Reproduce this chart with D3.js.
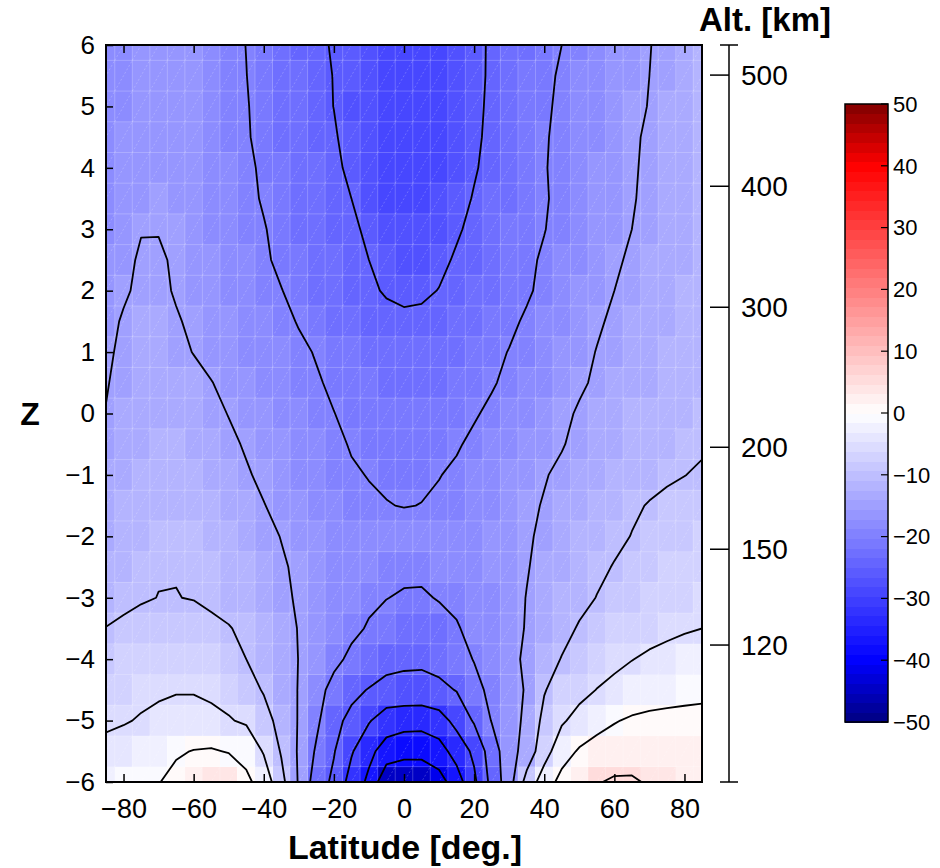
<!DOCTYPE html>
<html lang="en">
<head>
<meta charset="UTF-8">
<title>Latitude - Z section</title>
<script src="https://cdn.jsdelivr.net/npm/d3@7"></script>
<style>
    body { margin: 0; background: #fff; }
    svg text { font-family: "Liberation Sans", Arial, Helvetica, sans-serif; fill: #000; }
</style>
</head>
<body>
<div id="chart"></div>
<script>
    // grid centres of the field
    const lats = [-85, -80, -75, -70, -65, -60, -55, -50, -45, -40, -35, -30, -25, -20, -15, -10, -5, 0,
        5, 10, 15, 20, 25, 30, 35, 40, 45, 50, 55, 60, 65, 70, 75, 80, 85]
    const zLevels = [6, 5.5, 5, 4.5, 4, 3.5, 3, 2.5, 2, 1.5, 1, 0.5, 0, -0.5, -1, -1.5, -2, -2.5, -3, -3.5,
        -4, -4.5, -5, -5.5, -6]

    // one row per Z level (top to bottom), one value per latitude
    const fieldValues = [
        [-18, -17.5, -17, -16.5, -16.5, -17, -18, -19, -20.05, -21.5, -22.5, -23.5, -24.3, -25.3, -26.5, -27.5, -28.5, -29, -29, -28.5, -27.5, -26, -24.5, -23.3, -22, -21, -20, -19, -18, -17, -16, -15.1, -14.2, -13.3, -12.5],
        [-18, -17.3, -16.8, -16.3, -16.3, -17, -18, -19, -19.95, -21.2, -22.2, -23.2, -24.0, -25.1, -26.5, -27.8, -28.7, -29.2, -29.2, -28.7, -27.6, -26.1, -24.4, -23, -21.8, -20.7, -19.6, -18.6, -17.6, -16.7, -15.8, -15.0, -14.1, -13.2, -12.4],
        [-18, -17.2, -16.6, -16.2, -16.2, -16.9, -17.9, -18.9, -19.8, -21.0, -22.0, -23.0, -23.8, -25.05, -26.6, -28.0, -28.9, -29.3, -29.3, -28.8, -27.6, -26.0, -24.2, -22.8, -21.6, -20.5, -19.4, -18.4, -17.4, -16.5, -15.6, -14.9, -14.0, -13.1, -12.3],
        [-17.9, -17.0, -16.4, -16.0, -16.1, -16.8, -17.8, -18.8, -19.7, -20.9, -21.9, -22.9, -23.7, -24.6, -26.4, -28.0, -29.0, -29.3, -29.3, -28.8, -27.5, -25.8, -24.0, -22.6, -21.4, -20.3, -19.2, -18.2, -17.2, -16.3, -15.4, -14.6, -13.8, -13.0, -12.3],
        [-17.8, -16.8, -16.1, -15.8, -15.9, -16.6, -17.6, -18.6, -19.4, -20.5, -21.6, -22.7, -23.4, -24.0, -26.0, -27.7, -28.7, -29.1, -29.1, -28.6, -27.3, -25.4, -23.7, -22.4, -21.3, -20.2, -19.1, -18.1, -17.1, -16.2, -15.3, -14.5, -13.7, -13.0, -12.3],
        [-17.6, -16.6, -15.9, -15.6, -15.7, -16.4, -17.4, -18.4, -19.2, -20.3, -21.2, -22.3, -23.2, -23.8, -25.0, -27.0, -28.3, -28.7, -28.6, -28.0, -26.5, -24.7, -23.3, -22.3, -21.2, -20.3, -19.2, -18.1, -17.1, -16.1, -15.2, -14.4, -13.6, -12.9, -12.2],
        [-17.3, -16.2, -15.15, -15.1, -15.5, -16.2, -17.2, -18.1, -18.9, -19.8, -21.0, -22.2, -23.0, -23.6, -24.4, -25.6, -27.3, -28.0, -27.9, -27.0, -25.4, -24.2, -22.9, -21.8, -20.9, -20.1, -19.0, -17.9, -16.9, -15.9, -15.0, -14.3, -13.5, -12.8, -12.1],
        [-17.0, -15.8, -14.6, -14.7, -15.3, -16.0, -16.9, -17.8, -18.6, -19.5, -20.7, -21.8, -22.7, -23.3, -24.0, -25.0, -26.3, -26.9, -26.7, -25.8, -24.6, -23.5, -22.6, -21.6, -20.6, -19.6, -18.6, -17.5, -16.4, -15.4, -14.6, -13.9, -13.2, -12.6, -12.0],
        [-16.6, -15.4, -14.4, -14.5, -15.2, -15.9, -16.8, -17.6, -18.1, -18.9, -19.9, -21.1, -22.1, -22.9, -23.6, -24.5, -25.3, -25.8, -25.6, -24.9, -24.0, -23.2, -22.3, -21.3, -20.4, -19.3, -18.2, -17.1, -16.0, -15.0, -14.2, -13.6, -13.0, -12.4, -11.9],
        [-15.9, -14.7, -14.0, -13.9, -14.8, -15.4, -16.1, -16.8, -17.5, -18.3, -19.2, -20.2, -21.3, -22.2, -23.0, -23.6, -24.1, -24.3, -24.2, -23.8, -23.2, -22.4, -21.6, -20.6, -19.6, -18.4, -17.4, -16.4, -15.4, -14.5, -13.9, -13.3, -12.7, -12.2, -11.7],
        [-15.5, -14.4, -13.6, -13.4, -14.2, -15.1, -15.9, -16.6, -17.2, -17.8, -18.6, -19.4, -20.2, -21.0, -21.8, -22.5, -23.0, -23.2, -23.1, -22.8, -22.2, -21.5, -20.7, -19.9, -18.8, -17.8, -16.8, -15.9, -14.9, -14.2, -13.6, -13.1, -12.5, -12.0, -11.5],
        [-15.2, -14.1, -13.3, -13.0, -13.3, -14.0, -14.9, -15.8, -16.6, -17.3, -18.1, -18.9, -19.7, -20.5, -21.2, -21.7, -22.1, -22.3, -22.2, -21.9, -21.4, -20.8, -20.3, -19.3, -18.3, -17.3, -16.3, -15.4, -14.6, -13.8, -13.2, -12.6, -12.1, -11.6, -11.2],
        [-14.9, -13.8, -13.0, -12.6, -12.8, -13.4, -14.2, -15.1, -16.0, -16.8, -17.6, -18.4, -19.2, -19.95, -20.7, -21.1, -21.4, -21.5, -21.4, -21.2, -20.9, -20.3, -19.4, -18.4, -17.4, -16.5, -15.6, -14.7, -13.8, -13.1, -12.5, -12.0, -11.5, -11.1, -10.8],
        [-14.5, -13.4, -12.6, -12.2, -12.3, -12.8, -13.6, -14.4, -15.3, -16.2, -17.0, -17.8, -18.6, -19.4, -20.2, -20.6, -20.8, -20.8, -20.7, -20.5, -20.3, -19.4, -18.5, -17.6, -16.8, -16.0, -15.2, -14.2, -13.4, -12.7, -12.0, -11.4, -11.0, -10.7, -10.4],
        [-14.0, -13.0, -12.2, -11.8, -11.8, -12.2, -12.9, -13.8, -14.7, -15.6, -16.5, -17.4, -18.2, -19.0, -19.7, -20.1, -20.4, -20.4, -20.4, -20.1, -19.5, -18.7, -17.8, -16.9, -16.0, -15.2, -14.4, -13.6, -12.8, -12.3, -11.6, -11.0, -10.5, -10.05, -9.6],
        [-13.5, -12.5, -11.7, -11.3, -11.2, -11.6, -12.3, -13.1, -14.0, -14.9, -15.8, -16.7, -17.6, -18.4, -19.1, -19.6, -19.9, -20.1, -19.95, -19.5, -18.9, -18.1, -17.3, -16.4, -15.6, -14.8, -14.0, -13.1, -12.2, -11.3, -10.5, -9.8, -9.2, -8.8, -8.5],
        [-12.8, -11.9, -11.1, -10.6, -10.5, -10.8, -11.5, -12.3, -13.2, -14.1, -15.1, -16.0, -16.9, -17.6, -18.2, -18.5, -18.6, -18.6, -18.6, -18.4, -18.0, -17.3, -16.6, -16.0, -15.4, -14.4, -13.4, -12.4, -11.6, -10.8, -9.9, -9.1, -8.4, -7.9, -7.5],
        [-12.2, -11.4, -10.6, -10.2, -10.1, -10.3, -10.8, -11.6, -12.5, -13.5, -14.6, -15.6, -16.6, -17.4, -18.0, -18.5, -18.8, -18.9, -18.9, -18.7, -18.2, -17.5, -16.9, -16.0, -15.2, -14.0, -12.8, -11.8, -10.8, -9.8, -8.9, -8.1, -7.4, -6.9, -6.6],
        [-11.7, -10.9, -10.3, -9.95, -9.95, -10.1, -10.6, -11.3, -12.2, -13.2, -14.3, -15.4, -16.6, -17.6, -18.5, -19.2, -19.9, -20.5, -20.6, -19.7, -19.0, -18.3, -17.4, -16.3, -14.9, -13.8, -12.5, -11.2, -9.9, -9.1, -8.5, -7.7, -6.9, -6.3, -5.9],
        [-9.9, -9.3, -8.9, -8.6, -8.6, -8.9, -9.3, -9.8, -10.8, -12.0, -13.3, -15.2, -16.6, -18.0, -19.0, -20.4, -21.7, -22.5, -22.6, -21.9, -20.4, -18.6, -17.3, -16.1, -14.8, -13.3, -11.4, -9.6, -8.6, -7.8, -7.1, -6.5, -6.0, -5.4, -5.0],
        [-8.4, -7.8, -7.3, -7.0, -6.9, -7.1, -7.6, -8.7, -10.0, -11.3, -12.8, -15.1, -16.5, -18.8, -21.0, -22.3, -23.6, -24.0, -24.1, -23.4, -21.8, -19.8, -17.6, -16.0, -14.4, -12.0, -9.8, -8.3, -7.1, -6.1, -5.1, -4.3, -3.6, -3.1, -2.8],
        [-7.0, -6.4, -5.9, -5.5, -5.2, -5.2, -5.6, -6.4, -8.0, -10.4, -12.8, -15.2, -18.2, -21.6, -24.0, -25.2, -26.3, -26.6, -26.7, -26.1, -24.8, -21.5, -18.8, -16.8, -14.6, -10.3, -7.8, -6.4, -4.9, -3.8, -3.0, -2.4, -1.9, -1.5, -1.2],
        [-5.5, -5.3, -4.7, -4.2, -3.9, -3.9, -4.2, -4.7, -5.6, -8.0, -11.8, -15.3, -19.0, -23.9, -26.0, -29.6, -32.6, -33.1, -33.2, -32.0, -28.5, -24.5, -19.8, -17.0, -14.0, -8.7, -5.6, -3.4, -1.6, -0.3, 0.6, 1.1, 1.3, 1.4, 1.5],
        [-4.2, -3.3, -2.5, -1.7, -0.6, 0.2, 0.5, -0.3, -1.5, -5.4, -10.4, -15.6, -20.6, -24.7, -29.5, -33.8, -37.0, -38.3, -38.4, -37.0, -33.0, -29.0, -22.5, -17.0, -13.0, -7.0, -2.0, 0.5, 1.8, 2.5, 2.8, 2.7, 2.4, 2.2, 2.0],
        [-2, -1.5, -0.8, -0.2, 1.5, 3, 4.2, 4.6, 1, -2, -8.5, -15.5, -22.5, -26, -32, -36, -44, -44.5, -44.3, -42, -37.4, -31, -23.5, -17.1, -8.2, -2.5, 1.5, 3, 4.7, 5.6, 5.6, 4.5, 3.5, 3, 2.5]
    ]

    const contourLevels = [-40, -35, -30, -25, -20, -15, -10, -5, 0, 5]
    const latTicks = [-80, -60, -40, -20, 0, 20, 40, 60, 80]
    const zTicks = [6, 5, 4, 3, 2, 1, 0, -1, -2, -3, -4, -5, -6]
    const altTickLabels = [500, 400, 300, 200, 150, 120]
    const altTickZ = [5.51, 3.70, 1.73, -0.55, -2.21, -3.77]
    const colorTicks = [50, 40, 30, 20, 10, 0, -10, -20, -30, -40, -50]

    const width = 940
    const height = 868
    const plot = {left: 106, right: 702, top: 45, bottom: 782}
    const bar = {left: 845, right: 888, top: 104, bottom: 722}
    const altAxisX = 729
    const nColors = 64

    const latStep = lats[1] - lats[0]
    const zStep = zLevels[0] - zLevels[1]

    const x = d3.scaleLinear().domain([-85, 85]).range([plot.left, plot.right])
    const y = d3.scaleLinear().domain([-6, 6]).range([plot.bottom, plot.top])

    // blue - white - red map, quantised like a 64 entry colormap
    const cmap = d3.scaleLinear()
        .domain([-50, -40, 0, 40, 50])
        .range(["#000080", "#0000ff", "#ffffff", "#ff0000", "#800000"])
        .clamp(true)

    function binColor(v) {
        let k = Math.floor((v + 50) / 100 * nColors)
        k = Math.max(0, Math.min(nColors - 1, k))
        return cmap(-50 + (k + 0.5) * 100 / nColors)
    }

    const svg = d3.select("#chart").append("svg")
        .attr("width", width)
        .attr("height", height)

    svg.append("defs").append("clipPath")
        .attr("id", "plot-clip")
        .append("rect")
        .attr("x", plot.left)
        .attr("y", plot.top)
        .attr("width", plot.right - plot.left)
        .attr("height", plot.bottom - plot.top)

    const field = svg.append("g").attr("clip-path", "url(#plot-clip)")

    let cells = []
    zLevels.forEach((z, r) => {
        lats.forEach((lat, c) => {
            cells.push({lat: lat, z: z, v: fieldValues[r][c]})
        })
    })

    field.append("g")
        .selectAll("rect")
        .data(cells)
        .join("rect")
        .attr("x", (d) => x(d.lat - latStep / 2))
        .attr("y", (d) => y(d.z + zStep / 2))
        .attr("width", x(latStep) - x(0))
        .attr("height", y(0) - y(zStep))
        .attr("fill", (d) => binColor(d.v))
        .attr("shape-rendering", "crispEdges")

    // faint seams of the patch rendering
    const seams = field.append("g")
        .attr("stroke", "#fff")
        .attr("fill", "none")

    seams.selectAll(".vseam")
        .data(lats.slice(1))
        .join("line")
        .attr("x1", (d) => x(d - latStep / 2))
        .attr("x2", (d) => x(d - latStep / 2))
        .attr("y1", plot.top)
        .attr("y2", plot.bottom)
        .attr("stroke-opacity", 0.22)
        .attr("stroke-width", 1)

    seams.selectAll(".hseam")
        .data(zLevels.slice(1))
        .join("line")
        .attr("x1", plot.left)
        .attr("x2", plot.right)
        .attr("y1", (d) => y(d + zStep / 2))
        .attr("y2", (d) => y(d + zStep / 2))
        .attr("stroke-opacity", 0.22)
        .attr("stroke-width", 1)

    seams.selectAll(".dseam")
        .data(cells)
        .join("line")
        .attr("x1", (d) => x(d.lat - latStep / 2))
        .attr("y1", (d) => y(d.z - zStep / 2))
        .attr("x2", (d) => x(d.lat + latStep / 2))
        .attr("y2", (d) => y(d.z + zStep / 2))
        .attr("stroke-opacity", 0.3)
        .attr("stroke-width", 0.7)
        .attr("stroke-dasharray", "2,2")

    // contours on the grid, edges repeated once so lines run out of the frame
    const nx = lats.length
    const ny = zLevels.length
    let padded = []
    for (let j = -1; j <= ny; j ++) {
        for (let i = -1; i <= nx; i ++) {
            const r = Math.max(0, Math.min(ny - 1, j))
            const c = Math.max(0, Math.min(nx - 1, i))
            padded.push(fieldValues[r][c])
        }
    }

    const contourGen = d3.contours()
        .size([nx + 2, ny + 2])
        .thresholds(contourLevels)

    const gridToScreen = d3.geoTransform({
        point: function (gx, gy) {
            const lat = lats[0] + (gx - 1.5) * latStep
            const z = zLevels[0] - (gy - 1.5) * zStep
            this.stream.point(x(lat), y(z))
        }
    })

    field.append("g")
        .selectAll("path")
        .data(contourGen(padded))
        .join("path")
        .attr("d", d3.geoPath(gridToScreen))
        .attr("fill", "none")
        .attr("stroke", "#000")
        .attr("stroke-width", 1.8)
        .attr("stroke-linejoin", "round")

    // frame and axes
    svg.append("rect")
        .attr("x", plot.left)
        .attr("y", plot.top)
        .attr("width", plot.right - plot.left)
        .attr("height", plot.bottom - plot.top)
        .attr("fill", "none")
        .attr("stroke", "#000")
        .attr("stroke-width", 2)

    const fmt = d3.format("d")

    svg.append("g")
        .attr("transform", `translate(0,${plot.bottom})`)
        .call(d3.axisBottom(x).tickValues(latTicks).tickSize(-8).tickPadding(17).tickFormat(fmt))
        .call((g) => g.select(".domain").remove())
        .attr("font-size", 27)
        .attr("font-family", null)

    svg.append("g")
        .attr("transform", `translate(0,${plot.top})`)
        .call(d3.axisTop(x).tickValues(latTicks).tickSize(-8).tickFormat(""))
        .call((g) => g.select(".domain").remove())

    svg.append("g")
        .attr("transform", `translate(${plot.left},0)`)
        .call(d3.axisLeft(y).tickValues(zTicks).tickSize(-7).tickPadding(11).tickFormat(fmt))
        .call((g) => g.select(".domain").remove())
        .attr("font-size", 26)
        .attr("font-family", null)

    svg.selectAll(".tick line").attr("stroke-width", 1.5)

    svg.append("text")
        .attr("x", 405)
        .attr("y", 859)
        .attr("text-anchor", "middle")
        .attr("font-size", 34)
        .attr("font-weight", "bold")
        .text("Latitude [deg.]")

    svg.append("text")
        .attr("x", 30)
        .attr("y", 425)
        .attr("text-anchor", "middle")
        .attr("font-size", 32)
        .attr("font-weight", "bold")
        .text("Z")

    // altitude axis
    const alt = svg.append("g")
    alt.append("line")
        .attr("x1", altAxisX).attr("x2", altAxisX)
        .attr("y1", plot.top).attr("y2", plot.bottom)
        .attr("stroke", "#000").attr("stroke-width", 1.5)
    alt.selectAll(".cap")
        .data([plot.top, plot.bottom])
        .join("line")
        .attr("x1", altAxisX - 9).attr("x2", altAxisX + 9)
        .attr("y1", (d) => d).attr("y2", (d) => d)
        .attr("stroke", "#000").attr("stroke-width", 1.5)
    alt.selectAll(".alt-tick")
        .data(altTickZ)
        .join("line")
        .attr("x1", altAxisX - 19).attr("x2", altAxisX)
        .attr("y1", (d) => y(d)).attr("y2", (d) => y(d))
        .attr("stroke", "#000").attr("stroke-width", 1.5)
    alt.selectAll(".alt-label")
        .data(altTickLabels)
        .join("text")
        .attr("x", altAxisX + 12)
        .attr("y", (d, i) => y(altTickZ[i]))
        .attr("dy", "0.35em")
        .attr("font-size", 28)
        .text((d) => d)
    svg.append("text")
        .attr("x", 765)
        .attr("y", 31)
        .attr("text-anchor", "middle")
        .attr("font-size", 33)
        .attr("font-weight", "bold")
        .text("Alt. [km]")

    // colorbar
    const cbY = d3.scaleLinear().domain([-50, 50]).range([bar.bottom, bar.top])
    const bands = d3.range(nColors).map((k) => -50 + k * 100 / nColors)
    svg.append("g")
        .selectAll("rect")
        .data(bands)
        .join("rect")
        .attr("x", bar.left)
        .attr("width", bar.right - bar.left)
        .attr("y", (d) => cbY(d + 100 / nColors))
        .attr("height", cbY(0) - cbY(100 / nColors) + 0.5)
        .attr("fill", (d) => cmap(d + 50 / nColors))
        .attr("shape-rendering", "crispEdges")
    svg.append("rect")
        .attr("x", bar.left)
        .attr("y", bar.top)
        .attr("width", bar.right - bar.left)
        .attr("height", bar.bottom - bar.top)
        .attr("fill", "none")
        .attr("stroke", "#000")
        .attr("stroke-width", 1.5)
    svg.append("g")
        .selectAll("line")
        .data(colorTicks)
        .join("line")
        .attr("x1", bar.right - 7).attr("x2", bar.right)
        .attr("y1", (d) => cbY(d)).attr("y2", (d) => cbY(d))
        .attr("stroke", "#000").attr("stroke-width", 1.2)
    svg.append("g")
        .selectAll("text")
        .data(colorTicks)
        .join("text")
        .attr("x", bar.right + 5)
        .attr("y", (d) => cbY(d))
        .attr("dy", "0.35em")
        .attr("font-size", 22)
        .text((d) => fmt(d))
</script>
</body>
</html>
